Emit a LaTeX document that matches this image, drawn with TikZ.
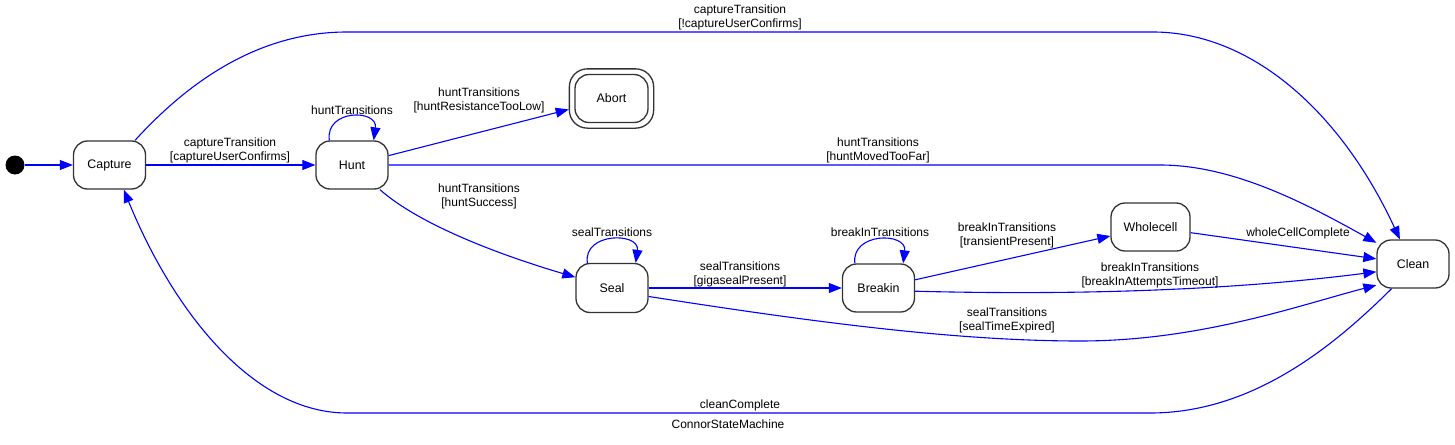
\documentclass[tikz,border=0pt]{standalone}
\usepackage{fontspec}
\setmainfont{Liberation Sans}
\usetikzlibrary{arrows.meta,fit}
\definecolor{edgeblue}{RGB}{0,0,255}
\definecolor{nodeline}{RGB}{51,51,51}
\begin{document}
\begin{tikzpicture}[x=1pt,y=-1pt,
  state/.style={draw=nodeline,line width=1.3pt,rounded corners=14pt,minimum width=72pt,minimum height=48pt,inner sep=0pt,font=\fontsize{12.4}{14}\selectfont},
  tr/.style={draw=edgeblue,line width=1.1pt,-{Triangle[length=13pt,width=10pt]}},
  lbl/.style={align=center,font=\fontsize{12}{14}\selectfont,inner sep=0pt}]
\fill[white] (0,0) rectangle (1455,444);
\useasboundingbox (0,0) rectangle (1455,444);

% states
\node[circle,fill=black,minimum size=19pt,inner sep=0pt] (init) at (15,165) {};
\node[state] (capture) at (109.5,165) {Capture};
\node[state] (hunt) at (352,165) {Hunt};
\node[state,minimum width=73pt] (abort) at (611.5,98.5) {Abort};
\node[draw=nodeline,line width=1.3pt,rounded corners=18pt,fit=(abort),inner sep=5pt] (abortout) {};
\node[state,minimum height=49pt] (seal) at (612,288) {Seal};
\node[state] (breakin) at (878.5,288) {Breakin};
\node[state,minimum width=79pt] (wholecell) at (1150.5,227) {Wholecell};
\node[state] (clean) at (1413,264) {Clean};

% transitions
\draw[tr] (init) -- (capture);
\draw[tr] (capture) -- (hunt);
\draw[tr] ([xshift=14pt]hunt.north west) .. controls (325,109) and (378,109) .. ([xshift=-15pt]hunt.north east);
\draw[tr] (hunt) -- (abortout);
\draw[tr] (hunt.east) -- (1160,165) .. controls (1230,165) and (1300,200) .. (clean.150);
\draw[tr] (hunt) .. controls (420,225) and (500,255) .. (seal);
\draw[tr] (capture.44) .. controls (190,80) and (260,32) .. (347,32) -- (1153,32) .. controls (1250,32) and (1340,110) .. (clean.118);
\draw[tr] ([xshift=12pt]seal.north west) .. controls (583,232) and (640,232) .. ([xshift=-13pt]seal.north east);
\draw[tr] (seal) -- (breakin);
\draw[tr] ([xshift=13pt]breakin.north west) .. controls (851,232) and (907,232) .. ([xshift=-12pt]breakin.north east);
\draw[tr] (breakin) -- (wholecell);
\draw[tr] (wholecell) -- (clean);
\draw[tr] (breakin.-5) .. controls (1100,296) and (1250,288) .. (clean.192);
\draw[tr] (seal.-13) .. controls (800,320) and (950,341) .. (1080,341) .. controls (1200,341) and (1300,305) .. (clean.210);
\draw[tr] (clean.229) .. controls (1330,350) and (1250,413) .. (1150,413) -- (347,413) .. controls (255,413) and (175,315) .. (capture.-60);

% labels
\node[lbl] (l1) at (230,150.5) {captureTransition\\{}[captureUserConfirms]};
\node[lbl] (l2) at (352,110) {huntTransitions};
\node[lbl] (l3) at (479,100) {huntTransitions\\{}[huntResistanceTooLow]};
\node[lbl] (l4) at (479,196) {huntTransitions\\{}[huntSuccess]};
\node[lbl] (l5) at (878,150) {huntTransitions\\{}[huntMovedTooFar]};
\node[lbl] (l6) at (740,17) {captureTransition\\{}[!captureUserConfirms]};
\node[lbl] (l7) at (612,232) {sealTransitions};
\node[lbl] (l8) at (740,274) {sealTransitions\\{}[gigasealPresent]};
\node[lbl] (l9) at (880,232) {breakInTransitions};
\node[lbl] (l10) at (1007,235) {breakInTransitions\\{}[transientPresent]};
\node[lbl] (l11) at (1298,233) {wholeCellComplete};
\node[lbl] (l12) at (1150,275) {breakInTransitions\\{}[breakInAttemptsTimeout]};
\node[lbl] (l13) at (1007,320) {sealTransitions\\{}[sealTimeExpired]};
\node[lbl] (l14) at (740,405) {cleanComplete};
\node[lbl] (l15) at (728,424) {ConnorStateMachine};
\end{tikzpicture}
\end{document}
